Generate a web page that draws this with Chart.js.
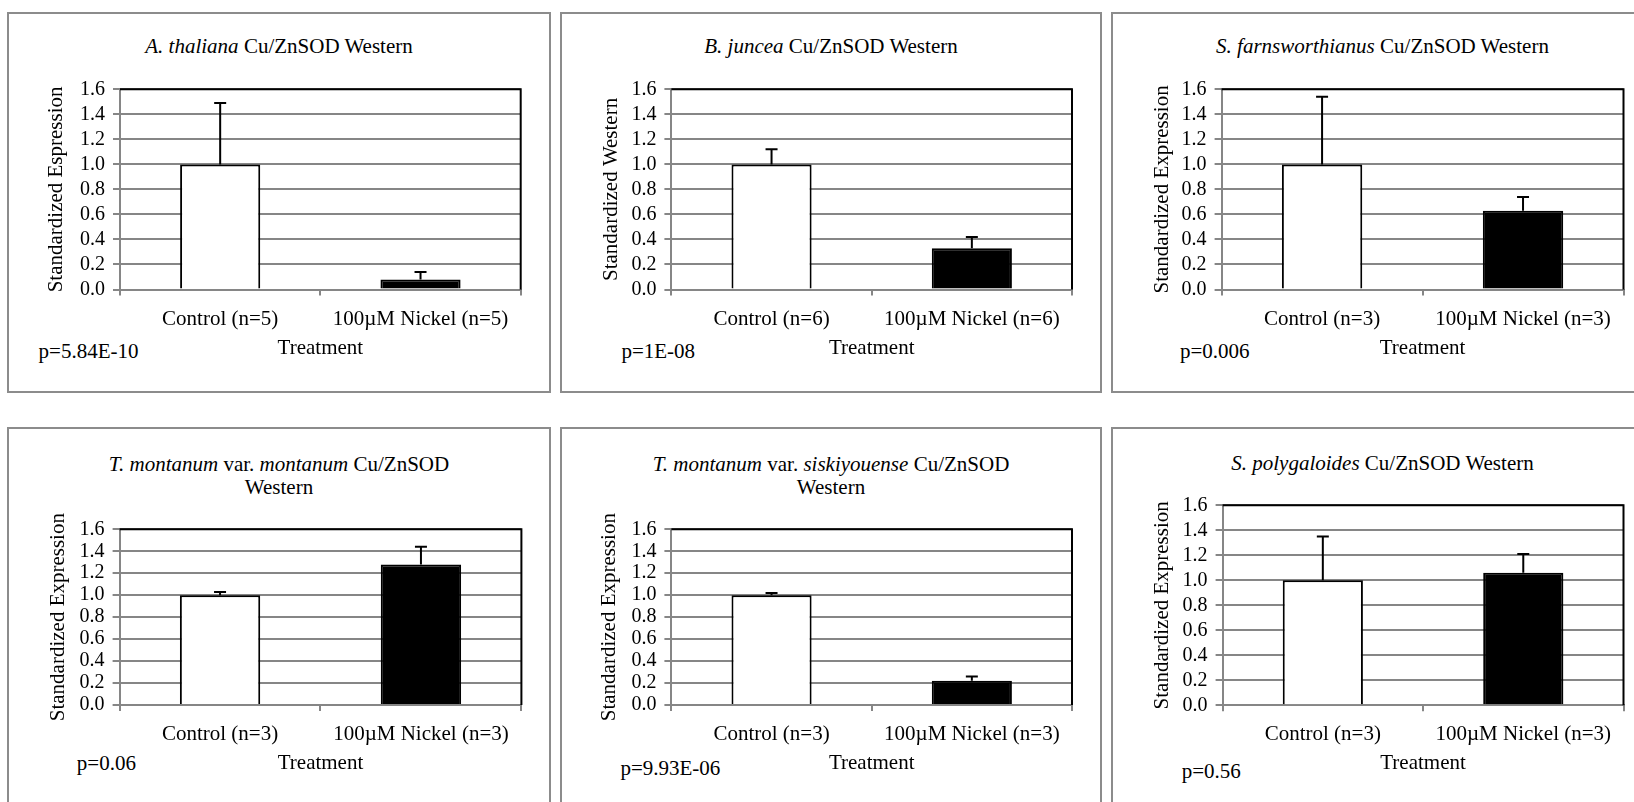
<!DOCTYPE html>
<html><head><meta charset="utf-8">
<script src="https://cdn.jsdelivr.net/npm/chart.js@4.4.1/dist/chart.umd.min.js"></script>
<style>
html,body{margin:0;padding:0;background:#fff;}
body{width:1634px;height:802px;overflow:hidden;position:relative;font-family:'Liberation Serif','Times New Roman',serif;}
.box{position:absolute;border:2px solid #8c8c8c;box-sizing:border-box;}
canvas{position:absolute;}
.t{position:absolute;font-size:21px;line-height:23px;text-align:center;color:#000;white-space:nowrap;}
.p{position:absolute;font-size:21px;line-height:23px;color:#000;white-space:nowrap;}
</style></head><body>
<script>
// ---------------- data ----------------
const categoriesN5 = ['Control (n=5)', '100µM Nickel (n=5)'];
const categoriesN6 = ['Control (n=6)', '100µM Nickel (n=6)'];
const categoriesN3 = ['Control (n=3)', '100µM Nickel (n=3)'];
const yTickLabels = ['0.0','0.2','0.4','0.6','0.8','1.0','1.2','1.4','1.6'];
const xAxisTitle = 'Treatment';

const athalianaMean = [1.00, 0.08];   const athalianaErr = [0.49, 0.06];
const junceaMean = [1.00, 0.33];      const junceaErr = [0.12, 0.09];
const farnsMean = [1.00, 0.63];       const farnsErr = [0.54, 0.11];
const montanumMean = [1.00, 1.28];    const montanumErr = [0.03, 0.16];
const siskiyMean = [1.00, 0.22];      const siskiyErr = [0.02, 0.04];
const polygalMean = [1.00, 1.06];     const polygalErr = [0.35, 0.15];

const panelTitles = [
  '<i>A. thaliana</i> Cu/ZnSOD Western',
  '<i>B. juncea</i> Cu/ZnSOD Western',
  '<i>S. farnsworthianus</i> Cu/ZnSOD Western',
  '<i>T. montanum</i> var. <i>montanum</i> Cu/ZnSOD<br>Western',
  '<i>T. montanum</i> var. <i>siskiyouense</i> Cu/ZnSOD<br>Western',
  '<i>S. polygaloides</i> Cu/ZnSOD Western'
];
const yAxisTitles = ['Standardized Espression','Standardized Western','Standardized Expression',
  'Standardized Expression','Standardized Expression','Standardized Expression'];
const pValues = ['p=5.84E-10','p=1E-08','p=0.006','p=0.06','p=9.93E-06','p=0.56'];

const panelData = [
  {labels: categoriesN5, mean: athalianaMean, err: athalianaErr},
  {labels: categoriesN6, mean: junceaMean, err: junceaErr},
  {labels: categoriesN3, mean: farnsMean, err: farnsErr},
  {labels: categoriesN3, mean: montanumMean, err: montanumErr},
  {labels: categoriesN3, mean: siskiyMean, err: siskiyErr},
  {labels: categoriesN3, mean: polygalMean, err: polygalErr}
];

// ---------------- layout ----------------
const FONT = "'Liberation Serif','Times New Roman',serif";
const GRID = '#868686';
const layout = [
  {x0:7,    y0:12,  w:544, h:381, bh:381, pl:36.7, pr:30.3, pt:77.3,  pb:32.1, wy:76.3, hx:71.4, tTop:35.4,  px:38.6,   py:340.1},
  {x0:560,  y0:12,  w:542, h:381, bh:381, pl:38.4, pr:30.0, pt:77.3,  pb:32.1, wy:73.0, hx:71.4, tTop:35.4,  px:621.4,  py:340.1},
  {x0:1111, y0:12,  w:543, h:381, bh:381, pl:39.0, pr:30.5, pt:77.3,  pb:32.1, wy:71.6, hx:71.4, tTop:35.4,  px:1180,   py:340.1},
  {x0:7,    y0:427, w:544, h:375, bh:400, pl:38.8, pr:29.6, pt:102.3, pb:26.1, wy:73.8, hx:70.9, tTop:453.0, px:76.8,   py:751.7},
  {x0:560,  y0:427, w:542, h:375, bh:400, pl:36.4, pr:30.0, pt:102.3, pb:26.1, wy:75.0, hx:70.9, tTop:453.0, px:620.4,  py:756.7},
  {x0:1111, y0:427, w:543, h:375, bh:400, pl:39.0, pr:30.5, pt:78.3,  pb:26.1, wy:72.6, hx:70.6, tTop:451.5, px:1181.7, py:760.1}
];

Chart.defaults.font.family = FONT;

const plotFrame = {
  id: 'plotFrame',
  beforeDatasetsDraw(chart) {
    const {ctx, chartArea: a} = chart;
    ctx.save();
    ctx.strokeStyle = '#000';
    ctx.lineWidth = 2;
    ctx.beginPath();
    ctx.moveTo(a.left, a.top);
    ctx.lineTo(a.right, a.top);
    ctx.lineTo(a.right, a.bottom);
    ctx.stroke();
    ctx.restore();
  }
};

function addDiv(cls, html, style) {
  const d = document.createElement('div');
  d.className = cls;
  d.innerHTML = html;
  Object.assign(d.style, style);
  document.body.appendChild(d);
  return d;
}

panelData.forEach((pd, k) => {
  const L = layout[k];
  addDiv('box', '', {left: L.x0+'px', top: L.y0+'px', width: L.w+'px', height: L.bh+'px'});
  addDiv('t', panelTitles[k], {left: L.x0+'px', top: L.tTop+'px', width: L.w+'px'});
  addDiv('p', pValues[k], {left: L.px+'px', top: L.py+'px'});

  const canvas = document.createElement('canvas');
  canvas.width = L.w; canvas.height = L.h;
  canvas.style.left = L.x0 + 'px'; canvas.style.top = L.y0 + 'px';
  document.body.appendChild(canvas);

  const capValues = pd.mean.map((m, i) => m + pd.err[i]);
  const stemValues = pd.mean.map((m, i) => [m, m + pd.err[i]]);

  new Chart(canvas, {
    type: 'bar',
    data: {
      labels: pd.labels,
      datasets: [
        {type: 'line', data: capValues, showLine: false, pointStyle: 'line',
         pointRadius: 6, pointHoverRadius: 6, pointBorderWidth: 2, borderWidth: 2,
         borderColor: '#000', pointBorderColor: '#000', pointBackgroundColor: '#000'},
        {type: 'bar', data: stemValues, backgroundColor: '#000', borderWidth: 0,
         grouped: false, maxBarThickness: 2, barPercentage: 0.4, categoryPercentage: 1},
        {type: 'bar', data: pd.mean, backgroundColor: ['#ffffff', '#000000'], borderColor: '#000',
         borderWidth: 2, borderSkipped: 'start', grouped: false, barPercentage: 0.4, categoryPercentage: 1}
      ]
    },
    options: {
      responsive: false, animation: false, events: [],
      layout: {padding: {left: L.pl, right: L.pr, top: L.pt, bottom: L.pb}},
      plugins: {legend: {display: false}, tooltip: {enabled: false}},
      scales: {
        x: {
          grid: {offset: true, drawOnChartArea: false, drawTicks: true, tickLength: 6, color: GRID, lineWidth: 2},
          border: {display: true, color: GRID, width: 2},
          ticks: {color: '#000', font: {family: FONT, size: 21}, padding: 11, maxRotation: 0, autoSkip: false},
          title: {display: true, text: xAxisTitle, color: '#000', font: {family: FONT, size: 21}, padding: 0},
          afterFit(s) { s.height = L.hx; }
        },
        y: {
          min: 0, max: 1.6,
          grid: {color: GRID, lineWidth: 2, tickLength: 7},
          border: {display: true, color: GRID, width: 2},
          ticks: {stepSize: 0.2, autoSkip: false, color: '#000', font: {family: FONT, size: 20}, padding: 8,
                  callback: (v, i) => yTickLabels[i] !== undefined ? yTickLabels[i] : v.toFixed(1)},
          title: {display: true, text: yAxisTitles[k], color: '#000', font: {family: FONT, size: 21}, padding: 0},
          afterFit(s) { s.width = L.wy; }
        }
      }
    },
    plugins: [plotFrame]
  });
});
</script>
</body></html>
